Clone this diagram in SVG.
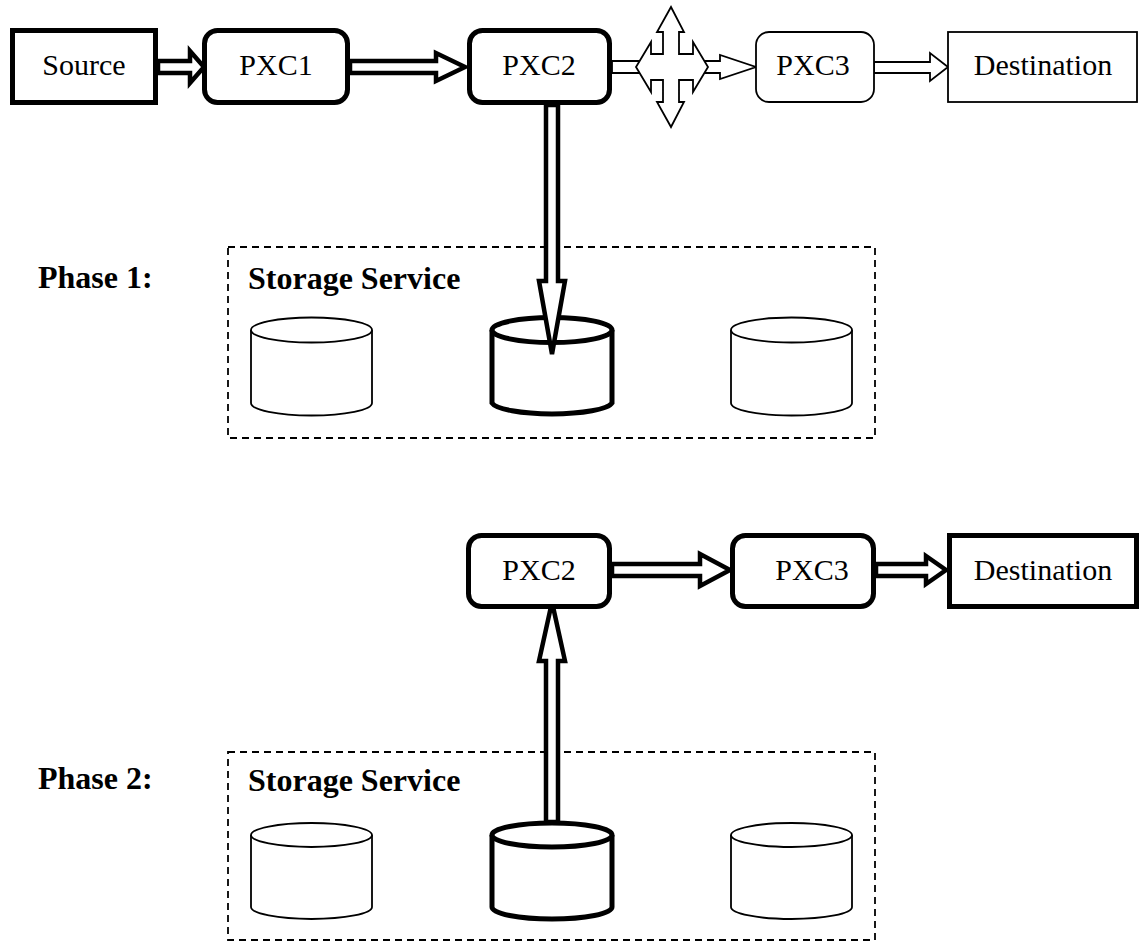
<svg xmlns="http://www.w3.org/2000/svg" width="1140" height="944" viewBox="0 0 1140 944">
<style>
.bg{fill:#fff}
.thick{fill:#fff;stroke:#000;stroke-width:5}
.thin{fill:#fff;stroke:#000;stroke-width:1.8}
.dash{fill:none;stroke:#000;stroke-width:1.8;stroke-dasharray:7,5}
.lbl{font-family:"Liberation Serif","Times New Roman",serif;font-size:30px;fill:#000;text-anchor:middle}
.bold{font-family:"Liberation Serif","Times New Roman",serif;font-size:32px;font-weight:bold;fill:#000}
.arrT{fill:#fff;stroke:#000;stroke-width:4.5;stroke-linejoin:miter}
.arrt{fill:#fff;stroke:#000;stroke-width:1.8;stroke-linejoin:miter}
</style>
<rect class="bg" x="0" y="0" width="1140" height="944"/>

<!-- Phase 1 storage group -->
<g id="phase1-label"><text class="bold" x="38" y="288">Phase 1:</text></g>
<g id="storage1">
<rect class="dash" x="228" y="247" width="647" height="191"/>
<text class="bold" x="248" y="289">Storage Service</text>
</g>
<g id="disk1a"><path class="thin" d="M251,330 L251,403 A60.5,12.5 0 0 0 372,403 L372,330"/><ellipse class="thin" cx="311.5" cy="330" rx="60.5" ry="12.5"/></g>
<g id="disk1b"><path class="thick" d="M492,330 L492,403 A60.5,12.5 0 0 0 612,403 L612,330"/><ellipse class="thick" cx="552" cy="330" rx="60" ry="12.5"/></g>
<g id="disk1c"><path class="thin" d="M731,330 L731,403 A60.5,12.5 0 0 0 852,403 L852,330"/><ellipse class="thin" cx="791.5" cy="330" rx="60.5" ry="12.5"/></g>

<!-- Phase 2 storage group -->
<g id="phase2-label"><text class="bold" x="38" y="789">Phase 2:</text></g>
<g id="storage2">
<rect class="dash" x="228" y="752" width="647" height="188"/>
<text class="bold" x="248" y="791">Storage Service</text>
</g>
<g id="disk2a"><path class="thin" d="M251,835 L251,907 A60.5,12 0 0 0 372,907 L372,835"/><ellipse class="thin" cx="311.5" cy="835" rx="60.5" ry="12"/></g>
<g id="disk2b"><path class="thick" d="M492,835 L492,907 A60,12 0 0 0 612,907 L612,835"/><ellipse class="thick" cx="552" cy="835" rx="60" ry="12"/></g>
<g id="disk2c"><path class="thin" d="M731,835 L731,907 A60.5,12 0 0 0 852,907 L852,835"/><ellipse class="thin" cx="791.5" cy="835" rx="60.5" ry="12"/></g>

<!-- connectors -->
<g id="connectors">
<polygon class="arrT" points="158,61 190,61 190,51 204,67 190,83 190,73 158,73"/>
<polygon class="arrT" points="350,61 436,61 436,53 465,67 436,81 436,73 350,73"/>
<polygon class="arrt" points="612,61 645,61 645,73 612,73"/>
<polygon class="arrt" points="700,61 720,61 720,55 756,67 720,79 720,73 700,73"/>
<polygon class="arrt" points="874,62 930,62 930,53 948,67 930,81 930,73 874,73"/>
<polygon class="arrT" points="546,105 546,281 539,281 552,354 565,281 558,281 558,105"/>
<polygon class="arrT" points="612,564 700,564 700,554 730,570 700,586 700,576 612,576"/>
<polygon class="arrT" points="876,564 926,564 926,556 946,570 926,584 926,576 876,576"/>
<polygon class="arrT" points="546,822 546,661 539,661 552,602 565,661 558,661 558,822"/>
</g>

<!-- top row nodes -->
<g id="source"><rect class="thick" x="12.5" y="30.5" width="143" height="72"/><text class="lbl" x="84" y="75">Source</text></g>
<g id="pxc1"><rect class="thick" x="204.5" y="30.5" width="143" height="72" rx="13"/><text class="lbl" x="276" y="75">PXC1</text></g>
<g id="pxc2-top"><rect class="thick" x="469.5" y="30.5" width="140" height="72" rx="13"/><text class="lbl" x="539" y="75">PXC2</text></g>
<g id="switch"><polygon class="arrt" points="671,7 684,32 679,32 679,54 693,54 693,42 708,67 693,92 693,80 679,80 679,102 684,102 671,127 657,102 663,102 663,80 651,80 651,92 636,67 651,42 651,54 663,54 663,32 657,32"/></g>
<g id="pxc3-top"><rect class="thin" x="756" y="32" width="118" height="70" rx="13"/><text class="lbl" x="813" y="75">PXC3</text></g>
<g id="dest-top"><rect class="thin" x="948" y="32" width="189" height="70"/><text class="lbl" x="1043" y="75">Destination</text></g>

<!-- bottom row nodes -->
<g id="pxc2-bot"><rect class="thick" x="468.5" y="535.5" width="141" height="71" rx="13"/><text class="lbl" x="539" y="580">PXC2</text></g>
<g id="pxc3-bot"><rect class="thick" x="732.5" y="535.5" width="141" height="71" rx="13"/><text class="lbl" x="812" y="580">PXC3</text></g>
<g id="dest-bot"><rect class="thick" x="949.5" y="535.5" width="187" height="71"/><text class="lbl" x="1043" y="580">Destination</text></g>
</svg>
